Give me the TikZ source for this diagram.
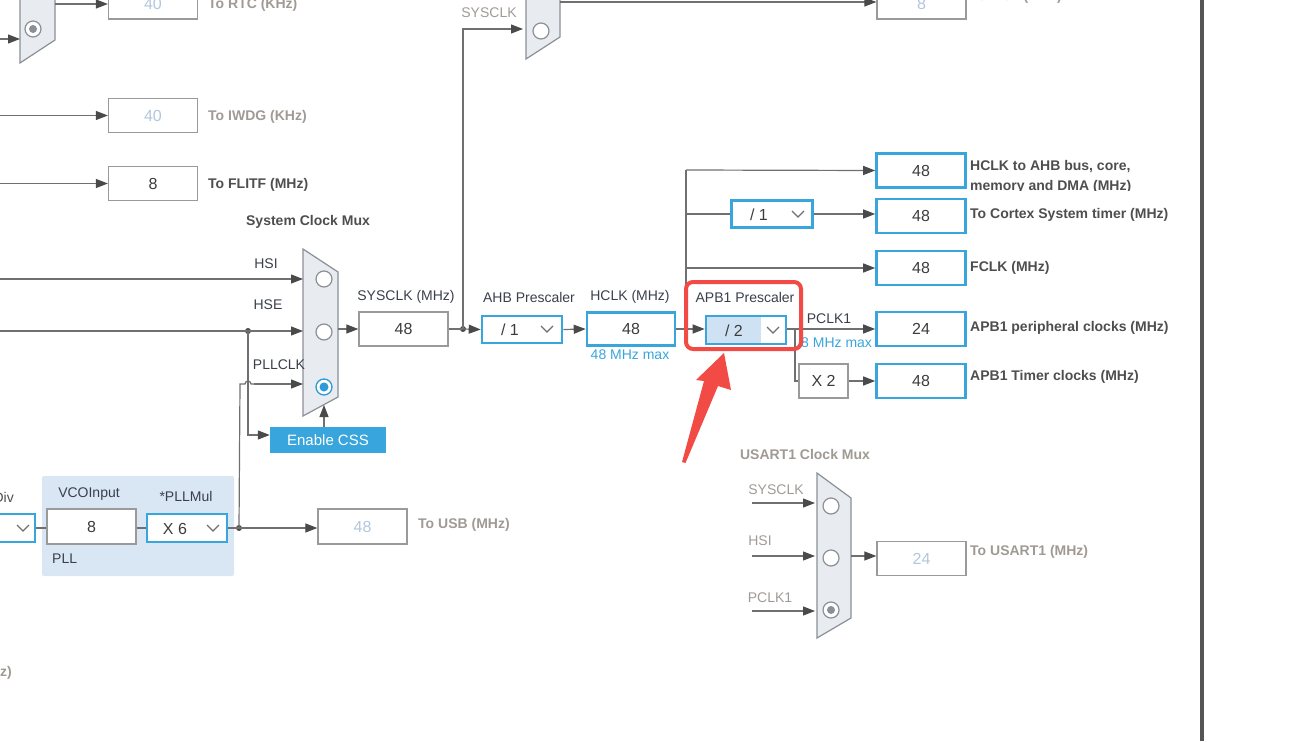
\documentclass[tikz,border=0pt]{standalone}
\usepackage{fontspec}
\setmainfont{Liberation Sans}
\usetikzlibrary{arrows.meta}
\definecolor{linegray}{HTML}{707070}
\definecolor{arrowdark}{HTML}{4A4A4A}
\definecolor{boxgray}{HTML}{9A9A9A}
\definecolor{cubeblue}{HTML}{38A5DC}
\definecolor{muxfill}{HTML}{E8ECF0}
\definecolor{muxdraw}{HTML}{8A9096}
\definecolor{distext}{HTML}{B2C7DD}
\definecolor{valtext}{HTML}{3C3C3C}
\definecolor{labdark}{HTML}{4E4E4E}
\definecolor{labdis}{HTML}{A09A94}
\definecolor{smalldark}{HTML}{3A3F4A}
\definecolor{pllbg}{HTML}{D9E7F4}
\definecolor{redmark}{HTML}{F24A45}
\definecolor{selblue}{HTML}{2E9AD6}
\definecolor{apbfill}{HTML}{CFE2F3}
\definecolor{borderdark}{HTML}{555555}
\newcommand\myfs[1]{\fontsize{#1}{#1}\selectfont}
\begin{document}
\begin{tikzpicture}[x=1pt,y=-1pt,
  conn/.style={draw=linegray, line width=1.2pt},
  arr/.style={conn, -{Triangle[length=12pt,width=9pt,color=arrowdark]}},
  gbox/.style={draw=boxgray, line width=1.3pt, fill=white, minimum width=89pt, minimum height=34pt, inner sep=0pt, font=\myfs{16}, text=valtext},
  bbox/.style={gbox, draw=cubeblue, line width=2.6pt},
  dd/.style={draw=cubeblue, line width=2.6pt, fill=white, minimum width=80pt, minimum height=27pt, inner sep=0pt},
  dis/.style={text=distext},
  lab/.style={font=\bfseries\myfs{14}, text=labdark, anchor=west, inner sep=0pt},
  labd/.style={lab, text=labdis},
  sm/.style={font=\myfs{14}, text=smalldark, inner sep=0pt},
  smd/.style={sm, text=labdis},
  val/.style={font=\myfs{16}, text=valtext, inner sep=0pt},
  blu/.style={font=\myfs{14}, text=cubeblue, inner sep=0pt},
  mux/.style={fill=muxfill, draw=muxdraw, line width=1.2pt},
  circ/.style={draw=muxdraw, line width=1.2pt, fill=white},
  chev/.style={draw=linegray, line width=1.1pt},
  dot/.style={circle, fill=arrowdark, inner sep=0pt, minimum size=6pt}
]
\useasboundingbox (0,0) rectangle (1308,741);
\clip (0,0) rectangle (1308,741);

% ---------- top left: RTC mux ----------
\filldraw[mux] (20,-10) -- (55,-10) -- (55,40) -- (20,63) -- cycle;
\draw[circ] (33,29) circle[radius=8pt];
\fill[muxdraw] (33,29) circle[radius=4pt];
\coordinate (rtcin0) at (0,39);
\coordinate (rtcin1) at (20,39);
\draw[arr] (rtcin0) -- (rtcin1);
\node[gbox, minimum height=36pt] (rtc) at (153,1) {};
\node[val, dis] at (153,4) {40};
\coordinate (rtcout) at (55,4);
\draw[arr] (rtcout) -- (rtc.west |- rtcout);
\node[labd] at (208,5) {To RTC (KHz)};

% ---------- IWDG / FLITF ----------
\node[gbox, dis] (iwdg) at (153,115.5) {40};
\coordinate (iwdgin) at (0,115.5);
\draw[arr] (iwdgin) -- (iwdg.west);
\node[labd] at (208,117) {To IWDG (KHz)};
\node[gbox] (flitf) at (153,183.5) {8};
\coordinate (flitfin) at (0,183.5);
\draw[arr] (flitfin) -- (flitf.west);
\node[lab] at (208,185) {To FLITF (MHz)};

% ---------- System clock mux ----------
\node[lab, anchor=center] at (308,222) {System Clock Mux};
\filldraw[mux] (303,249) -- (338,272) -- (338,397) -- (303,416) -- cycle;
\draw[circ] (324,279) circle[radius=8pt];
\draw[circ] (324,332) circle[radius=8pt];
\draw[draw=selblue, line width=1.3pt, fill=white] (324,387) circle[radius=8pt];
\fill[selblue] (324,387) circle[radius=4.5pt];

\coordinate (hsiin) at (0,279);
\coordinate (hsimux) at (303,279);
\draw[arr] (hsiin) -- (hsimux);
\node[sm] at (266,264) {HSI};
\coordinate (hsein) at (0,331);
\coordinate (hsemux) at (303,331);
\node[dot] (hsedot) at (248,331) {};
\draw[arr] (hsein) -- (hsemux);
\node[sm] at (268,305) {HSE};

\node[fill=cubeblue, text=white, font=\myfs{15}, minimum width=116pt, minimum height=26pt, inner sep=0pt] (css) at (328,440) {Enable CSS};
\draw[arr] (hsedot.center) |- ([yshift=5pt]css.west);
\coordinate (muxbot) at (324,405);
\draw[arr] (css.north -| muxbot) -- (muxbot);

% PLLCLK line with hop
\node[dot] (plldot) at (239,528) {};
\coordinate (pllturn) at (240,384);
\coordinate (pllmux) at (303,384);
\draw[conn] (plldot.center) -- (240,384) -- (245,384) arc[start angle=180, end angle=0, radius=3pt] -- (254,384);
\draw[arr] (254,384) -- (pllmux);
\node[sm] at (279,365) {PLLCLK};

% SYSCLK box
\node[gbox] (sys) at (403.5,329) {48};
\node[sm] at (406,297) {SYSCLK (MHz)};
\coordinate (muxout) at (338,329);
\draw[arr] (muxout) -- (sys.west);
\node[dot] (sysdot) at (463,329) {};
\draw[conn] (sys.east) -- (sysdot.center);

% top I2C mux
\filldraw[mux] (526,-10) -- (560,-10) -- (560,37) -- (526,59) -- cycle;
\draw[circ] (541,31) circle[radius=8pt];
\coordinate (i2cin) at (523,29);
\draw[arr] (sysdot.center) |- (i2cin);
\node[smd] at (489,13) {SYSCLK};
\node[gbox, minimum height=36pt] (i2c) at (921.5,1) {};
\node[val, dis] at (921.5,4) {8};
\coordinate (i2cout) at (560,2);
\draw[arr] (i2cout) -- (i2c.west |- i2cout);
\node[labd] at (970,-3) {To I2C1 (MHz)};

% AHB prescaler
\node[dd] (ahb) at (522,329.5) {};
\node[val] at (510,330) {/ 1};
\draw[chev] (541,326) -- (547,332) -- (553,326);
\node[sm] at (529,297) {AHB Prescaler};
\draw[arr] (sysdot.center) -- (ahb.west);

% HCLK
\node[bbox, minimum width=88pt, minimum height=33pt] (hclk) at (631,329) {48};
\node[sm] at (630,297) {HCLK (MHz)};
\node[blu] at (630,355) {48 MHz max};
\draw[arr] (ahb.east) -- (hclk.west);

% bus split
\coordinate (bus) at (686,329);
\coordinate (bustop) at (686,170);
\draw[conn] (hclk.east) -- (bus);
\draw[conn] (bus) -- (bustop);

% right boxes
\node[bbox] (ahbout) at (921,170.5) {48};
\node[bbox] (cortex) at (921,216) {48};
\node[bbox] (fclk) at (921,268) {48};
\node[bbox] (apbp) at (921,329) {24};
\node[bbox] (apbt) at (921,381) {48};
\node[lab] at (970,167) {HCLK to AHB bus, core,};
\node[lab] at (970,187) {memory and DMA (MHz)};
\fill[white] (968,191) rectangle (1190,205);
\node[lab] at (970,215) {To Cortex System timer (MHz)};
\node[lab] at (970,268) {FCLK (MHz)};
\node[lab] at (970,328) {APB1 peripheral clocks (MHz)};
\node[lab] at (970,377) {APB1 Timer clocks (MHz)};

\draw[arr] (bustop) -- (ahbout.west);
\node[dd, minimum width=81pt] (cdiv) at (772,214) {};
\node[val] at (759,215) {/ 1};
\draw[chev] (792,211) -- (798,217) -- (804,211);
\coordinate (cdivin) at (686,214);
\draw[conn] (cdivin) -- (cdiv.west);
\draw[arr] (cdiv.east) -- (cortex.west |- cdiv.east);
\coordinate (fclkin) at (686,268);
\draw[arr] (fclkin) -- (fclk.west);

% APB1 prescaler
\node[dd, minimum height=28pt] (apb) at (746,330) {};
\fill[apbfill] (707.3,317.3) rectangle (761,342.7);
\node[val] at (734,331) {/ 2};
\draw[chev] (767,327) -- (773,333) -- (779,327);
\node[sm] at (745,297) {APB1 Prescaler};
\draw[arr] (bus) -- (apb.west |- bus);
\draw[arr] (apb.east |- bus) -- (apbp.west);
\node[sm] at (829,319) {PCLK1};
\node[blu, anchor=west] at (801,343) {8 MHz max};
\node[gbox, minimum width=49pt] (x2) at (823.5,381) {X 2};
\coordinate (apbsplit) at (795,329);
\draw[conn] (apbsplit) |- (x2.west);
\draw[arr] (x2.east) -- (apbt.west);

% red highlight
\draw[redmark, line width=4pt, rounded corners=7pt] (686,282) rectangle (801,349);
\fill[redmark] (724,353) -- (731,390) -- (718,386) -- (685.5,463) -- (682,462) -- (704,381) -- (696,380) -- cycle;

% ---------- USART1 mux ----------
\node[labd, anchor=center] at (805,454) {USART1 Clock Mux};
\filldraw[mux] (817,473) -- (851,498) -- (851,618) -- (817,638) -- cycle;
\draw[circ] (831,506) circle[radius=8pt];
\draw[circ] (831,558) circle[radius=8pt];
\draw[circ] (831,610) circle[radius=8pt];
\fill[muxdraw] (831,610) circle[radius=4pt];
\coordinate (u1a) at (752,503); \coordinate (u1b) at (815,503);
\coordinate (u2a) at (752,556); \coordinate (u2b) at (815,556);
\coordinate (u3a) at (752,611); \coordinate (u3b) at (815,611);
\draw[arr] (u1a) -- (u1b);
\draw[arr] (u2a) -- (u2b);
\draw[arr] (u3a) -- (u3b);
\node[smd] at (776,490) {SYSCLK};
\node[smd] at (760,541) {HSI};
\node[smd] at (770,598) {PCLK1};
\node[gbox, dis] (usart) at (921.5,558.5) {24};
\coordinate (uout) at (851,556);
\draw[arr] (uout) -- (usart.west |- uout);
\node[labd] at (970,552) {To USART1 (MHz)};

% ---------- PLL ----------
\fill[pllbg, rounded corners=2pt] (42,476) rectangle (234,576);
\node[sm] at (89,494) {VCOInput};
\node[sm] at (186,496) {*PLLMul};
\node[sm, anchor=west] at (52,559) {PLL};
\node[smd, anchor=east, text=labdark] at (14,497) {Div};
\node[dd, minimum width=50pt, minimum height=28pt] (pdiv) at (10,528) {};
\draw[chev] (17,525) -- (23,531) -- (29,525);
\node[gbox, minimum height=35pt] (vco) at (91.5,526.5) {8};
\node[dd, minimum height=28pt] (mul) at (187,528) {};
\node[val] at (175,529) {X 6};
\draw[chev] (207,525) -- (213,531) -- (219,525);
\draw[conn] (pdiv.east) -- (vco.west |- pdiv.east);
\draw[conn] (vco.east |- mul.west) -- (mul.west);
\draw[conn] (mul.east) -- (plldot.center);
\node[gbox, dis, minimum height=35pt] (usb) at (362.5,526.5) {48};
\draw[arr] (plldot.center) -- (usb.west |- plldot);
\node[labd] at (418,525) {To USB (MHz)};
\node[labd] at (0,673) {z)};

% right border
\draw[borderdark, line width=4pt] (1202,0) -- (1202,741);
\end{tikzpicture}
\end{document}
